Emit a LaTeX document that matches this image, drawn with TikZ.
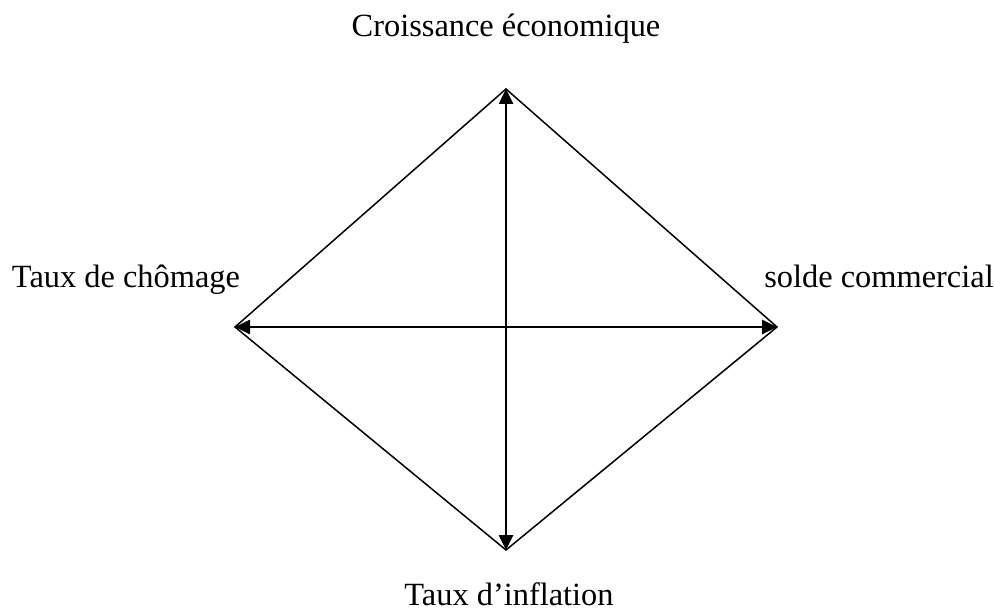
\documentclass[tikz,border=0pt]{standalone}
\usepackage{fontspec}
\setmainfont{Liberation Serif}
\usetikzlibrary{arrows.meta}
\begin{document}
\begin{tikzpicture}[x=1pt,y=-1pt,
  edge/.style={line width=1.5pt,line join=miter},
  axis/.style={line width=2.6pt,{Triangle[length=15pt,width=14pt]}-{Triangle[length=15pt,width=14pt]}},
  lab/.style={font=\fontsize{32.4}{38}\selectfont,inner sep=0pt,anchor=base}]
\useasboundingbox (0,0) rectangle (995,612);
\coordinate (T) at (506,89);
\coordinate (B) at (506,550);
\coordinate (L) at (235,327);
\coordinate (R) at (777,327);
\draw[edge] (T) -- (R) -- (B) -- (L) -- cycle;
\draw[axis] (T) -- (B);
\draw[axis] (L) -- (R);
\node[lab] (ce) at (506,37) {Croissance économique};
\node[lab] (tc) at (126,287) {Taux de chômage};
\node[lab] (sc) at (879,287) {solde commercial};
\node[lab] (ti) at (509,605) {Taux d’inflation};
\end{tikzpicture}
\end{document}
